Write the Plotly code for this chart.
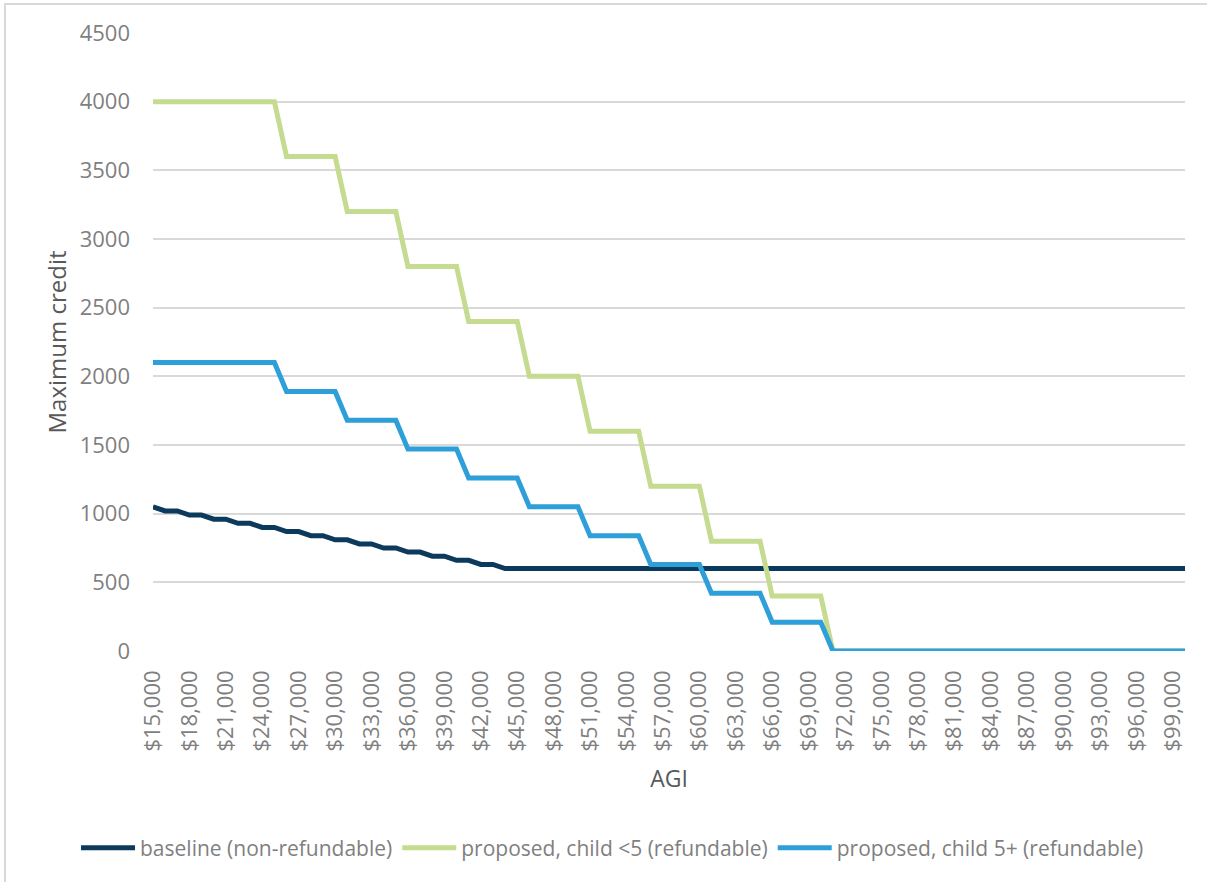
import plotly.graph_objects as go

# AGI categories ($1,000 steps, $15,000 .. $100,000)
agi = [
    15000, 16000, 17000, 18000, 19000, 20000, 21000, 22000, 23000, 24000,
    25000, 26000, 27000, 28000, 29000, 30000, 31000, 32000, 33000, 34000,
    35000, 36000, 37000, 38000, 39000, 40000, 41000, 42000, 43000, 44000,
    45000, 46000, 47000, 48000, 49000, 50000, 51000, 52000, 53000, 54000,
    55000, 56000, 57000, 58000, 59000, 60000, 61000, 62000, 63000, 64000,
    65000, 66000, 67000, 68000, 69000, 70000, 71000, 72000, 73000, 74000,
    75000, 76000, 77000, 78000, 79000, 80000, 81000, 82000, 83000, 84000,
    85000, 86000, 87000, 88000, 89000, 90000, 91000, 92000, 93000, 94000,
    95000, 96000, 97000, 98000, 99000, 100000,
]

baseline = [
    1050, 1020, 1020, 990, 990, 960, 960, 930, 930, 900,
    900, 870, 870, 840, 840, 810, 810, 780, 780, 750,
    750, 720, 720, 690, 690, 660, 660, 630, 630, 600,
    600, 600, 600, 600, 600, 600, 600, 600, 600, 600,
    600, 600, 600, 600, 600, 600, 600, 600, 600, 600,
    600, 600, 600, 600, 600, 600, 600, 600, 600, 600,
    600, 600, 600, 600, 600, 600, 600, 600, 600, 600,
    600, 600, 600, 600, 600, 600, 600, 600, 600, 600,
    600, 600, 600, 600, 600, 600,
]

child_under5 = [
    4000, 4000, 4000, 4000, 4000, 4000, 4000, 4000, 4000, 4000,
    4000, 3600, 3600, 3600, 3600, 3600, 3200, 3200, 3200, 3200,
    3200, 2800, 2800, 2800, 2800, 2800, 2400, 2400, 2400, 2400,
    2400, 2000, 2000, 2000, 2000, 2000, 1600, 1600, 1600, 1600,
    1600, 1200, 1200, 1200, 1200, 1200, 800, 800, 800, 800,
    800, 400, 400, 400, 400, 400, 0, 0, 0, 0,
    0, 0, 0, 0, 0, 0, 0, 0, 0, 0,
    0, 0, 0, 0, 0, 0, 0, 0, 0, 0,
    0, 0, 0, 0, 0, 0,
]

child_5plus = [
    2100, 2100, 2100, 2100, 2100, 2100, 2100, 2100, 2100, 2100,
    2100, 1890, 1890, 1890, 1890, 1890, 1680, 1680, 1680, 1680,
    1680, 1470, 1470, 1470, 1470, 1470, 1260, 1260, 1260, 1260,
    1260, 1050, 1050, 1050, 1050, 1050, 840, 840, 840, 840,
    840, 630, 630, 630, 630, 630, 420, 420, 420, 420,
    420, 210, 210, 210, 210, 210, 0, 0, 0, 0,
    0, 0, 0, 0, 0, 0, 0, 0, 0, 0,
    0, 0, 0, 0, 0, 0, 0, 0, 0, 0,
    0, 0, 0, 0, 0, 0,
]

x_ticks = [
    15000, 18000, 21000, 24000, 27000, 30000, 33000, 36000, 39000, 42000,
    45000, 48000, 51000, 54000, 57000, 60000, 63000, 66000, 69000, 72000,
    75000, 78000, 81000, 84000, 87000, 90000, 93000, 96000, 99000,
]
y_ticks = [0, 500, 1000, 1500, 2000, 2500, 3000, 3500, 4000, 4500]

FONT = "Open Sans"
GREY = "#7f7f7f"

series = [
    ("baseline (non-refundable)", baseline, "#0c3a5d"),
    ("proposed, child <5 (refundable)", child_under5, "#c5db8f"),
    ("proposed, child 5+ (refundable)", child_5plus, "#2e9fd8"),
]

fig = go.Figure()
for name, ys, color in series:
    fig.add_trace(go.Scatter(
        x=agi, y=ys, mode="lines", name=name,
        line=dict(color=color, width=5, shape="linear"),
    ))

fig.update_layout(
    width=1207, height=882,
    paper_bgcolor="white", plot_bgcolor="white",
    margin=dict(l=153, r=22, t=33, b=231),
    font=dict(family=FONT, size=20, color=GREY),
    xaxis=dict(
        range=[agi[0], agi[-1]],
        tickvals=x_ticks,
        ticktext=[f"${v:,}" for v in x_ticks],
        tickangle=-90,
        tickfont=dict(size=22, color=GREY),
        ticklabelstandoff=14,
        showgrid=False, zeroline=False, showline=False, ticks="",
        title=dict(text="AGI", font=dict(size=23, color="#595959"), standoff=20),
    ),
    yaxis=dict(
        range=[0, 4500],
        tickvals=y_ticks,
        tickfont=dict(size=22, color=GREY),
        ticklabelstandoff=22,
        showgrid=True, gridcolor="#d9d9d9", gridwidth=1.5,
        zeroline=False, showline=False, ticks="",
        title=dict(text="Maximum credit", font=dict(size=24, color="#595959"), standoff=6),
    ),
    legend=dict(
        orientation="h", x=-0.0746, xanchor="left", y=-0.319, yanchor="middle",
        font=dict(size=21, color=GREY), tracegroupgap=0, itemwidth=54,
    ),
)

# chart-area frame (top and left edges only, like the Excel export)
frame_js = (
    "document.body.style.margin = '0';"
    "document.body.style.overflow = 'hidden';"
    "var f = document.createElement('div');"
    "f.style.cssText = 'position:absolute;left:4px;top:3px;width:1203px;height:879px;"
    "border-top:2px solid #d9d9d9;border-left:2px solid #d9d9d9;"
    "box-sizing:border-box;pointer-events:none;';"
    "document.body.appendChild(f);"
)

fig.write_html(
    "out.html",
    config={"displayModeBar": False},
    post_script=frame_js,
)
